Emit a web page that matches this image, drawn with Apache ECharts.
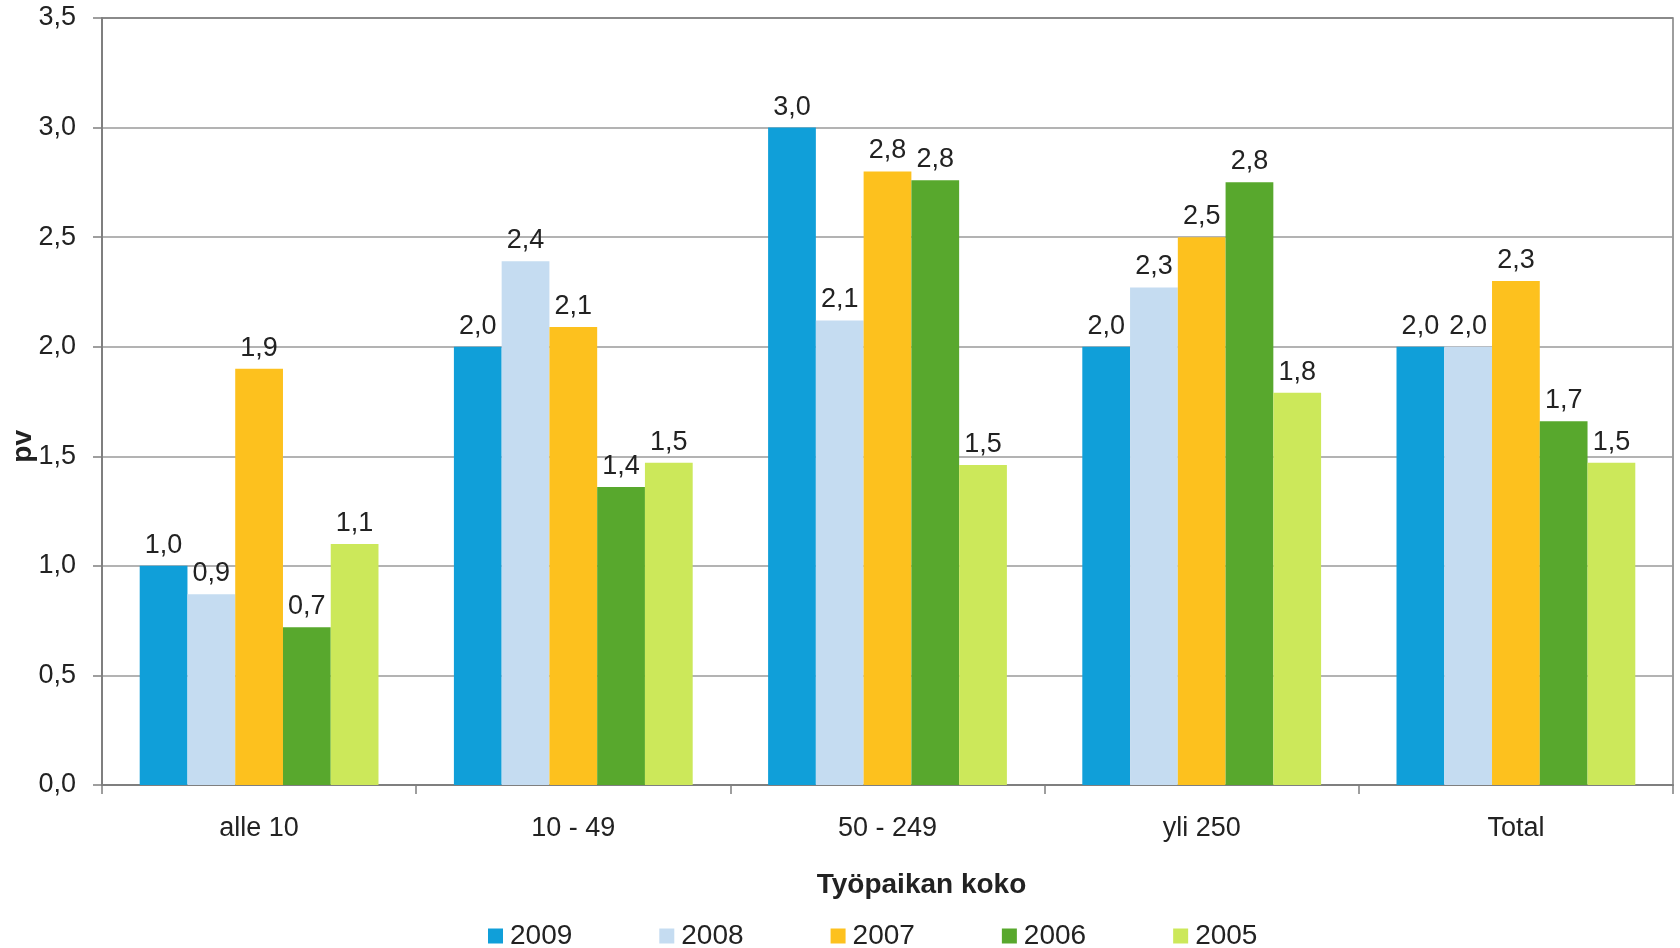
<!DOCTYPE html>
<html>
<head>
<meta charset="utf-8">
<script src="https://cdn.jsdelivr.net/npm/echarts@6/dist/echarts.min.js"></script>
<style>
html,body{margin:0;padding:0;background:#fff;}
#chart{width:1680px;height:948px;}
</style>
</head>
<body>
<div id="chart"></div>
<script>
const categories = ['alle 10', '10 - 49', '50 - 249', 'yli 250', 'Total'];
const seriesNames = ['2009', '2008', '2007', '2006', '2005'];
const v2009 = [1.0, 2.0, 3.0, 2.0, 2.0];
const v2008 = [0.87, 2.39, 2.12, 2.27, 2.0];
const v2007 = [1.9, 2.09, 2.8, 2.5, 2.3];
const v2006 = [0.72, 1.36, 2.76, 2.75, 1.66];
const v2005 = [1.1, 1.47, 1.46, 1.79, 1.47];
const colors = ['#109FD9', '#C5DCF1', '#FDC11E', '#58A82D', '#CCE85A'];
const allValues = [v2009, v2008, v2007, v2006, v2005];

const fmt = v => Number(v).toFixed(1).replace('.', ',');
const FONT = '"Liberation Sans", Arial, sans-serif';

const chart = echarts.init(document.getElementById('chart'));
chart.setOption({
  backgroundColor: '#fff',
  animation: false,
  textStyle: { fontFamily: FONT },
  grid: { left: 102, right: 7, top: 18, bottom: 163, show: true, borderColor: '#7f7f7f', borderWidth: 1.5 },
  legend: {
    data: seriesNames,
    top: 917,
    left: 483,
    itemWidth: 15,
    itemHeight: 15,
    itemGap: 87,
    icon: 'rect',
    textStyle: { fontSize: 28, color: '#222', fontFamily: FONT, padding: [0, 0, 0, 2] }
  },
  xAxis: {
    type: 'category',
    data: categories,
    name: 'Työpaikan koko',
    nameLocation: 'middle',
    nameGap: 86,
    nameTextStyle: { fontSize: 28, fontWeight: 'bold', color: '#222', fontFamily: FONT, padding: [0, 0, 0, 68] },
    axisLine: { lineStyle: { color: '#7f7f7f', width: 2 } },
    axisTick: { show: true, length: 9, lineStyle: { color: '#7f7f7f', width: 1.5 } },
    axisLabel: { fontSize: 27, color: '#222', margin: 30, fontFamily: FONT }
  },
  yAxis: {
    type: 'value',
    min: 0,
    max: 3.5,
    interval: 0.5,
    axisLine: { show: true, lineStyle: { color: '#7f7f7f', width: 2 } },
    axisTick: { show: true, length: 9, lineStyle: { color: '#7f7f7f', width: 1.5 } },
    axisLabel: { fontSize: 27, color: '#222', margin: 26, formatter: fmt, fontFamily: FONT },
    splitLine: { lineStyle: { color: '#9a9a9a', width: 1.5 } }
  },
  graphic: [{
    type: 'line',
    shape: { x1: 102, y1: 18, x2: 1673, y2: 18 },
    style: { stroke: '#444', lineWidth: 1.5 }
  }, {
    type: 'text',
    left: 9,
    top: 430,
    rotation: Math.PI / 2,
    style: { text: 'pv', fontSize: 28, fontWeight: 'bold', fill: '#222', fontFamily: FONT }
  }],
  series: seriesNames.map((name, i) => ({
    name: name,
    type: 'bar',
    data: allValues[i],
    barGap: '0%',
    barCategoryGap: '24%',
    itemStyle: { color: colors[i] },
    label: {
      show: true,
      position: 'top',
      distance: 7,
      fontSize: 27,
      color: '#222',
      fontFamily: FONT,
      formatter: p => fmt(p.value)
    }
  }))
});
</script>
</body>
</html>
